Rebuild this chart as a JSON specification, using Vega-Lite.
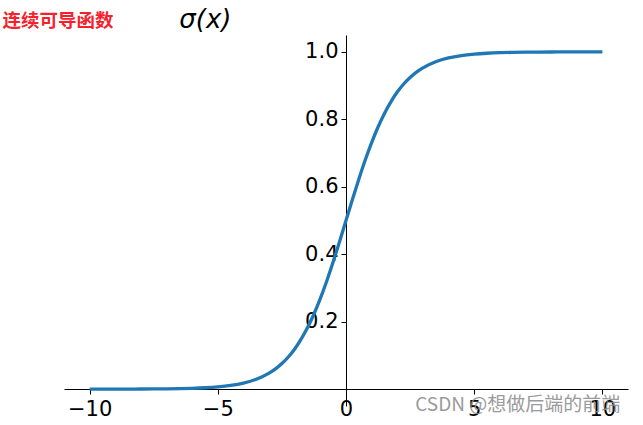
{
  "$schema": "https://vega.github.io/schema/vega-lite/v6.json",
  "width": 564,
  "height": 371,
  "autosize": "none",
  "padding": {"left": 64, "top": 35, "right": 15, "bottom": 19},
  "background": "white",
  "config": {"view": {"stroke": null}, "font": "DejaVu Sans"},
  "datasets": {
    "curve": [
      {"x": -10, "y": 0.0000454},
      {"x": -9.5, "y": 0.0000749},
      {"x": -9, "y": 0.000123},
      {"x": -8.5, "y": 0.000203},
      {"x": -8, "y": 0.000335},
      {"x": -7.5, "y": 0.000553},
      {"x": -7, "y": 0.000911},
      {"x": -6.5, "y": 0.001501},
      {"x": -6, "y": 0.002473},
      {"x": -5.5, "y": 0.00407},
      {"x": -5, "y": 0.006693},
      {"x": -4.5, "y": 0.010987},
      {"x": -4, "y": 0.017986},
      {"x": -3.5, "y": 0.029312},
      {"x": -3, "y": 0.047426},
      {"x": -2.75, "y": 0.060087},
      {"x": -2.5, "y": 0.075858},
      {"x": -2.25, "y": 0.095349},
      {"x": -2, "y": 0.119203},
      {"x": -1.75, "y": 0.148047},
      {"x": -1.5, "y": 0.182426},
      {"x": -1.25, "y": 0.2227},
      {"x": -1, "y": 0.268941},
      {"x": -0.75, "y": 0.320821},
      {"x": -0.5, "y": 0.377541},
      {"x": -0.25, "y": 0.437823},
      {"x": 0, "y": 0.5},
      {"x": 0.25, "y": 0.562177},
      {"x": 0.5, "y": 0.622459},
      {"x": 0.75, "y": 0.679179},
      {"x": 1, "y": 0.731059},
      {"x": 1.25, "y": 0.7773},
      {"x": 1.5, "y": 0.817574},
      {"x": 1.75, "y": 0.851953},
      {"x": 2, "y": 0.880797},
      {"x": 2.25, "y": 0.904651},
      {"x": 2.5, "y": 0.924142},
      {"x": 2.75, "y": 0.939913},
      {"x": 3, "y": 0.952574},
      {"x": 3.5, "y": 0.970688},
      {"x": 4, "y": 0.982014},
      {"x": 4.5, "y": 0.989013},
      {"x": 5, "y": 0.993307},
      {"x": 5.5, "y": 0.99593},
      {"x": 6, "y": 0.997527},
      {"x": 6.5, "y": 0.998499},
      {"x": 7, "y": 0.999089},
      {"x": 7.5, "y": 0.999447},
      {"x": 8, "y": 0.999665},
      {"x": 8.5, "y": 0.999797},
      {"x": 9, "y": 0.999877},
      {"x": 9.5, "y": 0.999925},
      {"x": 10, "y": 0.999955}
    ],
    "notes": [
      {"x": -13.4, "y": 1.092, "label": "连续可导函数"}
    ],
    "titles": [
      {"x": -6.5, "y": 1.094, "label": "σ(x)"}
    ],
    "mark": [
      {"x": 2.7, "y": -0.048, "label": "CSDN @想做后端的前端"}
    ]
  },
  "layer": [
    {
      "data": {"name": "curve"},
      "mark": {"type": "line", "color": "#1f77b4", "strokeWidth": 3.3, "interpolate": "monotone", "clip": false},
      "encoding": {
        "x": {
          "field": "x",
          "type": "quantitative",
          "scale": {"domain": [-11, 11], "nice": false, "zero": false},
          "axis": {
            "title": null,
            "values": [-10, -5, 0, 5, 10],
            "format": "d",
            "offset": -17,
            "grid": false,
            "domainColor": "black",
            "domainWidth": 1,
            "tickColor": "black",
            "tickSize": 5,
            "tickWidth": 1,
            "labelFontSize": 21,
            "labelColor": "black",
            "labelPadding": 4,
            "labelFont": "DejaVu Sans",
            "labelFlush": false
          }
        },
        "y": {
          "field": "y",
          "type": "quantitative",
          "scale": {"domain": [-0.05, 1.05], "nice": false, "zero": false},
          "axis": {
            "title": null,
            "values": [0.2, 0.4, 0.6, 0.8, 1.0],
            "format": ".1f",
            "offset": -282,
            "grid": false,
            "domainColor": "black",
            "domainWidth": 1,
            "tickColor": "black",
            "tickSize": 5,
            "tickWidth": 1,
            "labelFontSize": 21,
            "labelColor": "black",
            "labelPadding": 3,
            "labelFont": "DejaVu Sans",
            "labelFlush": false
          }
        }
      }
    },
    {
      "data": {"name": "notes"},
      "mark": {"type": "text", "align": "left", "baseline": "middle", "color": "#f5222d", "fontSize": 18.5, "fontWeight": "bold", "font": "Noto Sans CJK SC", "clip": false},
      "encoding": {
        "x": {"field": "x", "type": "quantitative"},
        "y": {"field": "y", "type": "quantitative"},
        "text": {"field": "label"}
      }
    },
    {
      "data": {"name": "titles"},
      "mark": {"type": "text", "align": "left", "baseline": "middle", "color": "black", "fontSize": 26, "fontStyle": "italic", "font": "DejaVu Sans", "clip": false},
      "encoding": {
        "x": {"field": "x", "type": "quantitative"},
        "y": {"field": "y", "type": "quantitative"},
        "text": {"field": "label"}
      }
    },
    {
      "data": {"name": "mark"},
      "mark": {"type": "text", "align": "left", "baseline": "middle", "color": "#8a8a8a", "opacity": 0.85, "fontSize": 19, "font": "Noto Sans CJK SC", "clip": false},
      "encoding": {
        "x": {"field": "x", "type": "quantitative"},
        "y": {"field": "y", "type": "quantitative"},
        "text": {"field": "label"}
      }
    }
  ]
}
